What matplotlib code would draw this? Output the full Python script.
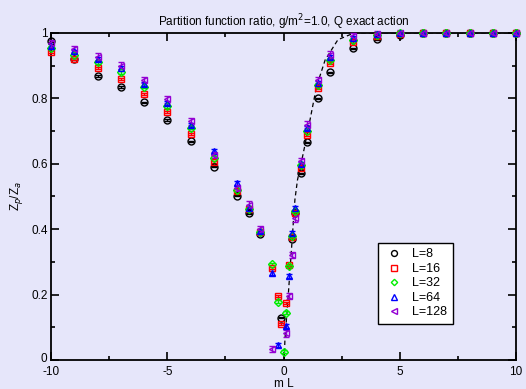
import matplotlib
matplotlib.use('Agg')
import matplotlib.pyplot as plt
import matplotlib.transforms as mtransforms

plt.rcParams['font.family'] = ['Liberation Sans', 'DejaVu Sans']
plt.rcParams['axes.unicode_minus'] = False

# --- data ---
x_outer_neg = [-10, -9, -8, -7, -6, -5, -4, -3, -2, -1.5, -1]
x_outer_pos = [0.75, 1, 1.5, 2, 3, 4, 5, 6, 7, 8, 9, 10]

# L=8
x_L8 = x_outer_neg + [-0.125, 0.375, 0.5] + x_outer_pos
y_L8 = [0.975, 0.920, 0.868, 0.834, 0.788, 0.734, 0.668, 0.591, 0.502, 0.448, 0.385,
        0.129, 0.369, 0.448,
        0.571, 0.665, 0.800, 0.879, 0.953, 0.981, 0.993, 0.998, 0.998, 0.999, 0.999, 0.999]
# L=16
x_L16 = x_outer_neg + [-0.5, -0.25, -0.125, 0.125, 0.25, 0.375, 0.5] + x_outer_pos
y_L16 = [0.940, 0.920, 0.892, 0.859, 0.813, 0.757, 0.691, 0.606, 0.515, 0.460, 0.390,
         0.282, 0.197, 0.110, 0.175, 0.290, 0.377, 0.448,
         0.586, 0.688, 0.831, 0.907, 0.973, 0.990, 0.997, 0.999, 1.0, 1.0, 1.0, 1.0]
# L=32
x_L32 = x_outer_neg + [-0.5, -0.25, 0.0, 0.125, 0.25, 0.375, 0.5] + x_outer_pos
y_L32 = [0.955, 0.933, 0.910, 0.879, 0.834, 0.775, 0.710, 0.618, 0.520, 0.462, 0.392,
         0.293, 0.178, 0.025, 0.145, 0.287, 0.380, 0.455,
         0.595, 0.700, 0.841, 0.917, 0.979, 0.993, 0.998, 1.0, 1.0, 1.0, 1.0, 1.0]
# L=64
x_L64 = x_outer_neg + [-0.5, -0.25, 0.125, 0.25, 0.375, 0.5] + x_outer_pos
y_L64 = [0.960, 0.943, 0.919, 0.894, 0.844, 0.785, 0.719, 0.640, 0.540, 0.465, 0.395,
         0.265, 0.046, 0.105, 0.256, 0.387, 0.464,
         0.600, 0.710, 0.846, 0.926, 0.985, 0.995, 0.999, 1.0, 1.0, 1.0, 1.0, 1.0]
# L=128
x_L128 = x_outer_neg + [-0.5, 0.125, 0.25, 0.375, 0.5] + x_outer_pos
y_L128 = [0.968, 0.950, 0.927, 0.900, 0.856, 0.797, 0.729, 0.627, 0.525, 0.475, 0.400,
          0.033, 0.081, 0.196, 0.321, 0.433,
          0.607, 0.719, 0.856, 0.933, 0.989, 0.996, 0.999, 1.0, 1.0, 1.0, 1.0, 1.0]

err_L = [0.002, 0.003, 0.004, 0.006, 0.010]

# dashed exact curve (traced)
x_exact = [0.03, 0.06, 0.20, 0.35, 0.49, 0.60, 0.85, 1.14, 1.42, 1.79, 2.34, 3.05, 4.0, 10.0]
y_exact = [0.0, 0.061, 0.194, 0.346, 0.49, 0.55, 0.632, 0.734, 0.836, 0.917, 0.979, 1.0, 1.0, 1.0]

labels = ['L=8', 'L=16', 'L=32', 'L=64', 'L=128']
xs = [x_L8, x_L16, x_L32, x_L64, x_L128]
ys = [y_L8, y_L16, y_L32, y_L64, y_L128]
colors = ['black', '#ff0000', '#00ee00', '#0000ff', '#9400d3']
markers = ['o', 's', 'D', '^', '<']
msizes = [5, 4.6, 3.8, 5, 5]

bg = '#e6e6fa'
fig = plt.figure(figsize=(5.26, 3.89), dpi=100, facecolor=bg)
ax = fig.add_axes([0.097, 0.0746, 0.884, 0.841], facecolor=bg)

ax.plot(x_exact, y_exact, 'k--', lw=0.9, dashes=(3.5, 2.5), zorder=1)

for x, y, c, m, ms, lab, e in zip(xs, ys, colors, markers, msizes, labels, err_L):
    cont = ax.errorbar(x, y, yerr=e, fmt=m, ms=ms, mfc='none', mec=c, mew=1.0,
                       ecolor=c, elinewidth=1, capsize=2.5, capthick=1, label=lab, zorder=3)
    for art in cont.get_children():
        art.set_clip_on(False)

ax.set_xlim(-10, 10)
ax.set_ylim(0, 1)
ax.set_xticks([-10, -5, 0, 5, 10])
ax.set_xticks([-7.5, -2.5, 2.5, 7.5], minor=True)
ax.set_yticks([0, 0.2, 0.4, 0.6, 0.8, 1])
ax.set_yticklabels(['0', '0.2', '0.4', '0.6', '0.8', '1'])
ax.set_yticks([0.1, 0.3, 0.5, 0.7, 0.9], minor=True)
ax.tick_params(which='both', direction='in', top=True, right=True, labelsize=8.5, width=1.2)
ax.tick_params(which='major', length=6)
ax.tick_params(axis='x', which='major', pad=4)
ax.tick_params(axis='y', which='major', pad=2.5)
ax.tick_params(which='minor', length=3)
for s in ax.spines.values():
    s.set_linewidth(1.3)
    s.set_zorder(2)

# nudge the "0" y label up a little, as in the original
lab0 = ax.get_yticklabels()[0]
lab0.set_transform(lab0.get_transform() +
                   mtransforms.ScaledTranslation(0, 2 / 72, fig.dpi_scale_trans))

ax.set_xlabel('m L', fontsize=8.5, labelpad=0.5)
ax.set_ylabel('Z$_p$/Z$_a$', fontsize=8.5, labelpad=4)
ax.set_title('Partition function ratio, g/m$^2$=1.0, Q exact action', fontsize=8.5, pad=5)

h, l = ax.get_legend_handles_labels()
h = [hh[0] for hh in h]
leg = ax.legend(h, l, loc='upper left', bbox_to_anchor=(0.703, 0.358), fontsize=9,
                fancybox=False, framealpha=1, edgecolor='black', borderpad=0.45,
                labelspacing=0.2, handletextpad=0.7, handlelength=1.6, borderaxespad=0,
                markerscale=0.85)
leg.get_frame().set_linewidth(1)
leg.set_zorder(5)

plt.savefig('out.png', dpi=100, facecolor=bg)
